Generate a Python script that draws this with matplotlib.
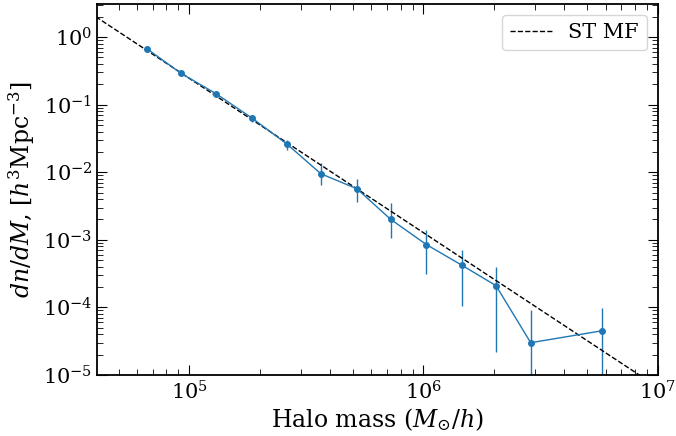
import numpy as np
import matplotlib.pyplot as plt

plt.rcParams['font.family'] = 'DejaVu Serif'
plt.rcParams['mathtext.fontset'] = 'dejavuserif'

# measured halo mass function
mass = [6.63e4, 9.25e4, 1.30e5, 1.86e5, 2.62e5, 3.65e5, 5.2e5, 7.26e5,
        1.03e6, 1.46e6, 2.04e6, 2.87e6, 5.77e6]
dndm = [0.667, 0.29, 0.146, 0.063, 0.026, 0.0095, 0.0057, 0.002,
        8.5e-4, 4.2e-4, 2.1e-4, 3.0e-5, 4.5e-5]
err_lo = [0.03, 0.02, 0.012, 0.008, 0.005, 0.003, 0.0021, 0.00095,
          5.4e-4, 3.15e-4, 1.88e-4, 2.99e-5, 4.49e-5]
err_hi = [0.03, 0.02, 0.012, 0.008, 0.004, 0.0042, 0.0023, 0.0015,
          5.5e-4, 2.8e-4, 1.9e-4, 6.0e-5, 5.2e-5]

# Sheth-Tormen reference curve (power law over this range)
st_mass = [4.0e4, 1e7]
st_dndm = [2.0, 6.6e-6]

fig, ax = plt.subplots(figsize=(6.76, 4.36), dpi=100)
ax.errorbar(mass, dndm, yerr=[err_lo, err_hi], color='tab:blue', marker='o',
            ms=4, lw=1)
ax.plot(st_mass, st_dndm, 'k--', lw=1, label='ST MF')

ax.set_xscale('log')
ax.set_yscale('log')
ax.set_xlim(4.06e4, 1e7)
ax.set_ylim(1e-5, 3.05)
ax.set_xlabel(r'Halo mass ($M_{\odot}/h$)', fontsize=17, labelpad=2)
ax.set_ylabel(r'$dn/dM$, [$h^3 \mathrm{Mpc}^{-3}$]', fontsize=17)
ax.tick_params(which='both', direction='in', top=True, right=True)
ax.tick_params(which='major', length=7, labelsize=15)
ax.tick_params(which='minor', length=4)
ax.legend(loc='upper right', fontsize=15)
for s in ax.spines.values():
    s.set_linewidth(1.3)

fig.subplots_adjust(left=0.144, right=0.973, top=0.99, bottom=0.14)
fig.savefig('out.png')
